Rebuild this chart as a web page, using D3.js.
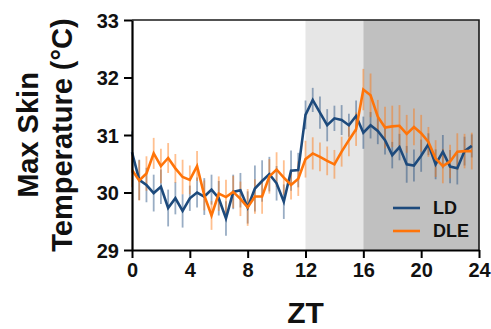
<!DOCTYPE html>
<html>
<head>
<meta charset="utf-8">
<script src="https://cdn.jsdelivr.net/npm/d3@7"></script>
<style>
  body { margin: 0; background: #fff; }
  text { font-family: "Liberation Sans", Arial, sans-serif; font-weight: bold; }
</style>
</head>
<body>
<div id="chart"></div>
<script>
// ZT sampled every half hour
const zt = d3.range(48).map(i => i * 0.5);

const ldMean = [30.70, 30.22, 30.13, 29.99, 30.10, 29.73, 29.90, 29.68, 29.90, 30.00,
    29.93, 30.05, 29.90, 29.55, 30.01, 30.04, 29.74, 30.07, 30.20, 30.32,
    30.16, 29.84, 30.38, 30.39, 31.35, 31.61, 31.39, 31.17, 31.29, 31.26,
    31.17, 31.33, 31.04, 31.17, 31.07, 30.91, 30.65, 30.79, 30.49, 30.47,
    30.64, 30.84, 30.49, 30.71, 30.45, 30.42, 30.72, 30.81];
const ldErr = [0.36, 0.35, 0.30, 0.32, 0.30, 0.32, 0.28, 0.29, 0.22, 0.26,
    0.32, 0.26, 0.30, 0.30, 0.30, 0.30, 0.28, 0.40, 0.36, 0.30,
    0.30, 0.30, 0.35, 0.30, 0.25, 0.21, 0.28, 0.28, 0.22, 0.26,
    0.20, 0.27, 0.28, 0.23, 0.23, 0.25, 0.23, 0.23, 0.32, 0.28,
    0.28, 0.19, 0.26, 0.29, 0.29, 0.28, 0.25, 0.20];

const dleMean = [30.39, 30.21, 30.33, 30.68, 30.46, 30.60, 30.42, 30.27, 30.22, 30.46,
    29.95, 29.60, 29.98, 29.92, 30.01, 29.89, 29.74, 29.93, 29.93, 30.28,
    30.40, 30.26, 30.13, 30.24, 30.58, 30.68, 30.62, 30.55, 30.49, 30.71,
    30.91, 31.10, 31.79, 31.69, 31.32, 31.13, 31.15, 31.16, 31.02, 31.14,
    31.03, 30.88, 30.59, 30.46, 30.54, 30.71, 30.72, 30.72];
const dleErr = [0.30, 0.35, 0.30, 0.27, 0.30, 0.26, 0.25, 0.30, 0.25, 0.26,
    0.26, 0.25, 0.30, 0.30, 0.28, 0.30, 0.32, 0.30, 0.30, 0.30,
    0.30, 0.30, 0.25, 0.30, 0.32, 0.28, 0.25, 0.25, 0.25, 0.26,
    0.28, 0.29, 0.36, 0.38, 0.29, 0.36, 0.36, 0.36, 0.33, 0.32,
    0.32, 0.26, 0.32, 0.30, 0.29, 0.32, 0.30, 0.32];

const xTicks = [0, 4, 8, 12, 16, 20, 24];
const yTicks = [29, 30, 31, 32, 33];

// light phases: [start, end, fill]
const phases = [[12, 16, "#e6e6e6"], [16, 24, "#c0c0c0"]];

const series = [
    { name: "LD", mean: ldMean, err: ldErr, color: "#1d4a7c" },
    { name: "DLE", mean: dleMean, err: dleErr, color: "#ff7409" }
];

const margin = { top: 20, right: 12, bottom: 79, left: 132 },
    width = 491 - margin.left - margin.right,
    height = 329 - margin.top - margin.bottom;

const svg = d3.select("#chart")
    .append("svg")
    .attr("width", 491)
    .attr("height", 329)
    .append("g")
    .attr("transform", `translate(${margin.left},${margin.top})`);

const x = d3.scaleLinear().domain([0, 24]).range([0, width]);
const y = d3.scaleLinear().domain([29, 33]).range([height, 0]);

// Shaded phases
svg.selectAll("rect.phase")
    .data(phases)
    .join("rect")
    .attr("class", "phase")
    .attr("x", d => x(d[0]))
    .attr("y", 0)
    .attr("width", d => x(d[1]) - x(d[0]))
    .attr("height", height)
    .attr("fill", d => d[2]);

// Frame top/right
svg.append("path")
    .attr("d", `M0,0H${width}V${height}`)
    .attr("fill", "none")
    .attr("stroke", "#1a1a1a")
    .attr("stroke-width", 1.6);

// Error bars
series.forEach(s => {
    svg.append("g")
        .selectAll("line")
        .data(zt)
        .join("line")
        .attr("x1", (d) => x(d))
        .attr("x2", (d) => x(d))
        .attr("y1", (d, i) => y(s.mean[i] - s.err[i]))
        .attr("y2", (d, i) => y(s.mean[i] + s.err[i]))
        .attr("stroke", s.color)
        .attr("stroke-opacity", 0.45)
        .attr("stroke-width", 1.8);
});

// Lines
const line = d3.line().x(d => x(d[0])).y(d => y(d[1]));
series.forEach(s => {
    svg.append("path")
        .datum(zt.map((t, i) => [t, s.mean[i]]))
        .attr("fill", "none")
        .attr("stroke", s.color)
        .attr("stroke-width", 2.6)
        .attr("stroke-linejoin", "miter")
        .attr("d", line);
});

// Axes
const xAxis = svg.append("g")
    .attr("transform", `translate(0,${height})`)
    .call(d3.axisBottom(x).tickValues(xTicks).tickFormat(d3.format("d"))
        .tickSize(8).tickPadding(5).tickSizeOuter(0));
const yAxis = svg.append("g")
    .call(d3.axisLeft(y).tickValues(yTicks).tickFormat(d3.format("d"))
        .tickSize(8).tickPadding(5).tickSizeOuter(0));

[xAxis, yAxis].forEach(a => {
    a.select(".domain").attr("stroke", "#000").attr("stroke-width", 2.2);
    a.selectAll(".tick line").attr("stroke", "#000").attr("stroke-width", 2);
    a.selectAll(".tick text")
        .attr("fill", "#111")
        .style("font-size", "20px")
        .style("font-family", "'Liberation Sans', Arial, sans-serif")
        .style("font-weight", "bold");
});
yAxis.selectAll(".tick text").attr("dy", "0.36em");

// Axis titles
svg.append("text")
    .attr("x", width / 2)
    .attr("y", height + 73)
    .attr("text-anchor", "middle")
    .style("font-size", "30px")
    .attr("fill", "#111")
    .text("ZT");

svg.append("text")
    .attr("transform", `translate(${38 - margin.left},${height / 2}) rotate(-90)`)
    .attr("text-anchor", "middle")
    .style("font-size", "29px")
    .attr("fill", "#111")
    .text("Max Skin");

svg.append("text")
    .attr("transform", `translate(${72 - margin.left},${height / 2}) rotate(-90)`)
    .attr("text-anchor", "middle")
    .style("font-size", "29px")
    .attr("fill", "#111")
    .text("Temperature (°C)");

// Legend
const legend = svg.append("g")
    .attr("transform", `translate(${393 - margin.left},${208 - margin.top})`);
series.forEach((s, i) => {
    legend.append("line")
        .attr("x1", 0).attr("x2", 27)
        .attr("y1", i * 23).attr("y2", i * 23)
        .attr("stroke", s.color)
        .attr("stroke-width", 2.6);
    legend.append("text")
        .attr("x", 40)
        .attr("y", i * 23)
        .attr("dy", "0.36em")
        .style("font-size", "18px")
        .attr("fill", "#111")
        .text(s.name);
});
</script>
</body>
</html>
